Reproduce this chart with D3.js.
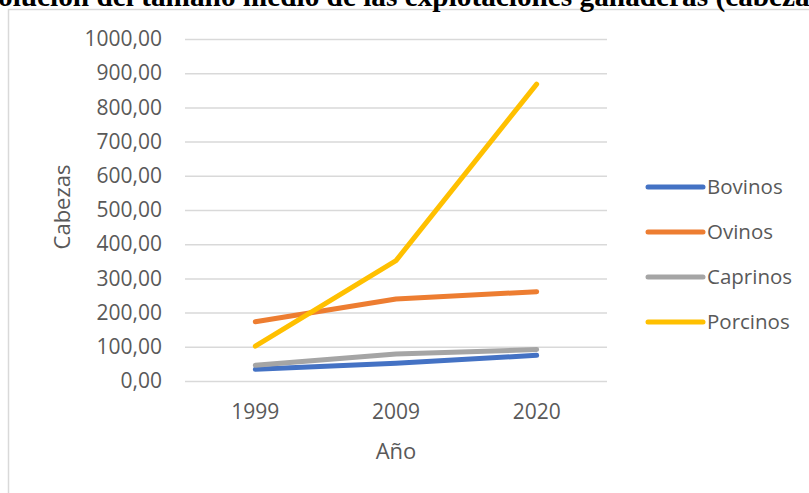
<!DOCTYPE html>
<html>
<head>
<meta charset="utf-8">
<script src="https://cdn.jsdelivr.net/npm/d3@7"></script>
<style>
  html, body { margin: 0; padding: 0; background: #fff; overflow: hidden; }
  svg { display: block; }
</style>
</head>
<body>
<svg id="chart" width="809" height="493"></svg>
<script>
// Tamaño medio de las explotaciones ganaderas (cabezas por explotación)
const years = ["1999", "2009", "2020"];
const bovinos  = [34, 52, 75];
const ovinos   = [173, 240, 261];
const caprinos = [46, 79, 92];
const porcinos = [102, 352, 868];
const seriesNames = ["Bovinos", "Ovinos", "Caprinos", "Porcinos"];
const seriesColors = ["#4472C4", "#ED7D31", "#A5A5A5", "#FFC000"];
const yTicks = [0, 100, 200, 300, 400, 500, 600, 700, 800, 900, 1000];

const titleText = "Evolución del tamaño medio de las explotaciones ganaderas (cabezas)";
const yTitle = "Cabezas";
const xTitle = "Año";

const series = [bovinos, ovinos, caprinos, porcinos].map((values, i) => ({
  name: seriesNames[i],
  color: seriesColors[i],
  values: values.map((v, j) => ({ year: years[j], value: v }))
}));

const svg = d3.select("#chart");
const textColor = "#595959";
const font = "'Open Sans', 'Liberation Sans', sans-serif";

const plot = { left: 185, right: 607, top: 39, bottom: 381 };

const x = d3.scaleBand().domain(years).range([plot.left, plot.right]);
const y = d3.scaleLinear().domain([0, 1000]).range([plot.bottom, plot.top]);

// Chart frame
svg.append("rect")
  .attr("x", 8.5).attr("y", 9.5)
  .attr("width", 900).attr("height", 600)
  .attr("fill", "#fff")
  .attr("stroke", "#d9d9d9")
  .attr("stroke-width", 1.5);

// Title (bold serif, sitting above the frame)
const title = svg.append("text")
  .attr("y", 6)
  .attr("font-family", "'Liberation Serif', 'Times New Roman', serif")
  .attr("font-weight", "bold")
  .attr("font-size", 26)
  .attr("fill", "#000")
  .text(titleText);
{
  const node = title.node();
  const startIdx = 2; // first visible glyph "o"
  const endIdx = titleText.indexOf("(cabezas)") + "(cabeza".length;
  const span = node.getSubStringLength(startIdx, endIdx - startIdx);
  const size = 26 * 812 / span;
  title.attr("font-size", size);
  const lead = node.getSubStringLength(0, startIdx);
  title.attr("x", -2 - lead);
}

// Horizontal gridlines and y-axis labels
const yAxis = d3.axisLeft(y)
  .tickValues(yTicks)
  .tickSize(-(plot.right - plot.left))
  .tickPadding(23)
  .tickFormat(d => d3.format(".2f")(d).replace(".", ","));

const gy = svg.append("g")
  .attr("transform", `translate(${plot.left},0)`)
  .call(yAxis);
gy.select(".domain").remove();
gy.selectAll(".tick line")
  .attr("stroke", "#d9d9d9")
  .attr("stroke-width", 1.5);
gy.selectAll(".tick text")
  .attr("fill", textColor)
  .attr("font-family", font)
  .attr("font-size", 21);

// Category axis labels
const xAxis = d3.axisBottom(x).tickSize(0).tickPadding(23);
const gx = svg.append("g")
  .attr("transform", `translate(0,${plot.bottom})`)
  .call(xAxis);
gx.select(".domain").remove();
gx.selectAll(".tick text")
  .attr("fill", textColor)
  .attr("font-family", font)
  .attr("font-size", 21);

// Axis titles
svg.append("text")
  .attr("transform", `translate(62,${(plot.top + plot.bottom) / 2 - 3}) rotate(-90)`)
  .attr("text-anchor", "middle")
  .attr("dy", "0.35em")
  .attr("fill", textColor)
  .attr("font-family", font)
  .attr("font-size", 22)
  .text(yTitle);

svg.append("text")
  .attr("x", (plot.left + plot.right) / 2)
  .attr("y", 451)
  .attr("text-anchor", "middle")
  .attr("dy", "0.35em")
  .attr("fill", textColor)
  .attr("font-family", font)
  .attr("font-size", 22)
  .text(xTitle);

// Lines
const line = d3.line()
  .x(d => x(d.year) + x.bandwidth() / 2)
  .y(d => y(d.value));

svg.append("g")
  .selectAll("path")
  .data(series)
  .join("path")
  .attr("d", d => line(d.values))
  .attr("fill", "none")
  .attr("stroke", d => d.color)
  .attr("stroke-width", 5)
  .attr("stroke-linecap", "round")
  .attr("stroke-linejoin", "round");

// Legend
const legend = svg.append("g")
  .attr("transform", "translate(648,187)");
const item = legend.selectAll("g")
  .data(series)
  .join("g")
  .attr("transform", (d, i) => `translate(0,${i * 45})`);
item.append("line")
  .attr("x1", 0).attr("x2", 55)
  .attr("stroke", d => d.color)
  .attr("stroke-width", 5)
  .attr("stroke-linecap", "round");
item.append("text")
  .attr("x", 59)
  .attr("dy", "0.35em")
  .attr("fill", textColor)
  .attr("font-family", font)
  .attr("font-size", 20.5)
  .text(d => d.name);
</script>
</body>
</html>
